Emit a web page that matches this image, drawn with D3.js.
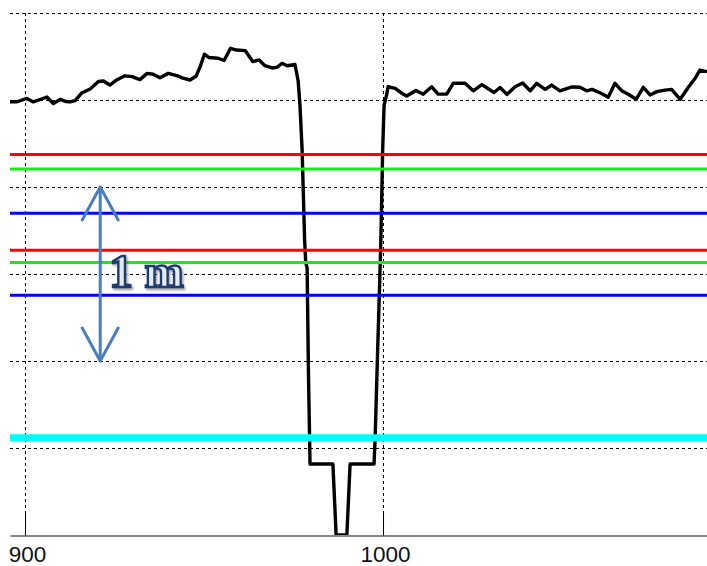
<!DOCTYPE html>
<html>
<head>
<meta charset="utf-8">
<script src="https://cdn.jsdelivr.net/npm/d3@7/dist/d3.min.js"></script>
<style>
  html, body { margin: 0; padding: 0; background: #fff; }
  svg { display: block; }
</style>
</head>
<body>
<svg id="chart" width="707" height="566"></svg>
<script>
// Ground profile along the section (distance in m, elevation in m above datum)
const distance = [
  895.8, 897.8, 900.5, 902.3, 904.2, 906.1, 907.9, 909.8, 911.5, 912.6,
  914.0, 915.8, 918.2, 920.5, 921.9, 923.7, 925.6, 927.9, 929.9, 932.1,
  934.1, 935.8, 937.7, 940.0, 942.4, 944.1, 946.1, 947.8, 948.9, 950.1,
  951.4, 953.9, 955.6, 957.4, 959.1, 961.5, 963.6, 965.4, 967.0, 969.0,
  970.4, 971.8, 973.2, 975.4, 976.3, 976.8, 977.4, 978.1, 978.4, 978.8,
  979.2, 979.5, 979.6, 986.0, 986.9, 989.9, 990.8, 997.5, 997.8, 998.5,
  999.0, 999.4, 999.9, 1000.3, 1001.0, 1001.4, 1003.4, 1005.2, 1006.6, 1009.2,
  1011.2, 1013.6, 1015.4, 1017.8, 1019.6, 1022.9, 1025.2, 1027.6, 1031.0, 1032.7,
  1034.6, 1036.9, 1039.0, 1041.1, 1042.9, 1045.3, 1047.1, 1049.4, 1052.8, 1055.0,
  1056.9, 1058.4, 1060.9, 1062.9, 1064.8, 1066.7, 1068.5, 1070.7, 1072.7, 1074.6,
  1076.5, 1078.8, 1080.6, 1083.0, 1085.3, 1087.2, 1088.5, 1090.5
];
const elevation = [
  2.490, 2.490, 2.509, 2.489, 2.503, 2.517, 2.480, 2.503, 2.491, 2.489,
  2.496, 2.540, 2.563, 2.606, 2.609, 2.586, 2.615, 2.639, 2.634, 2.617,
  2.653, 2.648, 2.628, 2.653, 2.640, 2.626, 2.615, 2.638, 2.690, 2.763,
  2.744, 2.740, 2.727, 2.797, 2.787, 2.784, 2.721, 2.730, 2.697, 2.684,
  2.688, 2.711, 2.697, 2.704, 2.609, 2.471, 2.213, 1.695, 1.569, 1.534,
  0.891, 0.546, 0.408, 0.408, 0.000, 0.000, 0.408, 0.408, 0.557, 1.063,
  1.408, 1.695, 2.213, 2.471, 2.529, 2.576, 2.567, 2.539, 2.523, 2.555,
  2.533, 2.576, 2.534, 2.534, 2.596, 2.596, 2.553, 2.588, 2.543, 2.572,
  2.532, 2.576, 2.598, 2.553, 2.596, 2.561, 2.586, 2.553, 2.575, 2.573,
  2.553, 2.561, 2.539, 2.516, 2.596, 2.553, 2.533, 2.504, 2.573, 2.529,
  2.548, 2.557, 2.561, 2.504, 2.573, 2.625, 2.672, 2.663
];

// Reference water levels (m)
const redLevels   = [2.187, 1.636];
const greenLevels = [2.103, 1.566];
const blueLevels  = [1.849, 1.378];
const cyanLevels  = [0.559];

// Axis ticks and grid
const xTicks = [900, 1000];
const xTickLabels = ["900", "1000"];
const yGrid = [0.5, 1.0, 1.5, 2.0, 2.5, 3.0];

// Scale bar
const scaleBarFrom = 1.0;
const scaleBarTo = 2.0;
const scaleBarAt = 921;
const scaleBarLabel = "1 m";

// ---- drawing ----
const svg = d3.select("#chart");
const plot = { left: 10, right: 707, top: 13, bottom: 535 };

const x = d3.scaleLinear().domain([895.8, 1090.5]).range([plot.left, plot.right]);
const y = d3.scaleLinear().domain([0, 3]).range([plot.bottom, plot.top]);

svg.append("defs").append("clipPath").attr("id", "plotClip")
  .append("rect")
  .attr("x", plot.left).attr("y", plot.top - 6)
  .attr("width", plot.right - plot.left).attr("height", plot.bottom - plot.top + 6);

const shadow = svg.select("defs").append("filter").attr("id", "textShadow")
  .attr("x", "-20%").attr("y", "-20%").attr("width", "150%").attr("height", "150%");
shadow.append("feDropShadow")
  .attr("dx", 1.5).attr("dy", 2).attr("stdDeviation", 1.2)
  .attr("flood-color", "#555").attr("flood-opacity", 0.55);

// Horizontal dashed grid
svg.append("g")
  .selectAll("line").data(yGrid).join("line")
  .attr("x1", plot.left).attr("x2", plot.right)
  .attr("y1", d => Math.round(y(d)) + 0.5).attr("y2", d => Math.round(y(d)) + 0.5)
  .attr("stroke", "#000").attr("stroke-width", 1)
  .attr("stroke-dasharray", "3,3");

// Vertical dashed grid
svg.append("g")
  .selectAll("line").data(xTicks).join("line")
  .attr("x1", d => Math.round(x(d)) + 0.5).attr("x2", d => Math.round(x(d)) + 0.5)
  .attr("y1", plot.top).attr("y2", plot.bottom)
  .attr("stroke", "#000").attr("stroke-width", 1)
  .attr("stroke-dasharray", "3,3");

// Bottom axis with inward ticks
const xAxis = d3.axisBottom(x)
  .tickValues(xTicks)
  .tickFormat((d, i) => xTickLabels[i])
  .tickSizeInner(-24)
  .tickSizeOuter(0)
  .tickPadding(11);

const axisG = svg.append("g")
  .attr("transform", `translate(0,${plot.bottom + 0.5})`)
  .call(xAxis);
axisG.select(".domain").attr("stroke", "#111").attr("stroke-width", 1.2);
axisG.selectAll(".tick line").attr("stroke", "#000").attr("stroke-width", 1);
axisG.selectAll(".tick text")
  .attr("fill", "#111")
  .attr("dx", 2)
  .style("font-family", "'Liberation Sans', Arial, sans-serif")
  .style("font-size", "22.5px");

// Ground profile
const profile = distance.map((d, i) => [d, elevation[i]]);
svg.append("path")
  .datum(profile)
  .attr("clip-path", "url(#plotClip)")
  .attr("fill", "none")
  .attr("stroke", "#000")
  .attr("stroke-width", 3.4)
  .attr("stroke-linejoin", "round")
  .attr("d", d3.line().x(d => x(d[0])).y(d => y(d[1])));

// Water levels
const levelSets = [
  { values: redLevels,   color: "#ff0000", width: 3 },
  { values: greenLevels, color: "#14ee14", width: 3 },
  { values: blueLevels,  color: "#0000ff", width: 3 },
  { values: cyanLevels,  color: "#00ffff", width: 7 }
];
levelSets.forEach(set => {
  svg.append("g")
    .selectAll("line").data(set.values).join("line")
    .attr("x1", plot.left).attr("x2", plot.right)
    .attr("y1", d => y(d)).attr("y2", d => y(d))
    .attr("stroke", set.color)
    .attr("stroke-width", set.width);
});

// Scale bar: double-headed arrow spanning one metre
const barX = x(scaleBarAt);
const yTop = y(scaleBarTo), yBot = y(scaleBarFrom);
const headW = 18, headH = 33;
const arrow = svg.append("g")
  .attr("fill", "none")
  .attr("stroke", "#4a7ebb")
  .attr("stroke-width", 3)
  .attr("stroke-linecap", "round")
  .attr("stroke-linejoin", "round");
arrow.append("line")
  .attr("x1", barX).attr("x2", barX)
  .attr("y1", yTop).attr("y2", yBot);
arrow.append("path")
  .attr("d", `M${barX - headW},${yTop + headH} L${barX},${yTop} L${barX + headW},${yTop + headH}`);
arrow.append("path")
  .attr("d", `M${barX - headW},${yBot - headH} L${barX},${yBot} L${barX + headW},${yBot - headH}`);

svg.append("text")
  .attr("x", barX + 9)
  .attr("y", y((scaleBarFrom + scaleBarTo) / 2) + 13)
  .attr("filter", "url(#textShadow)")
  .attr("fill", "#e6eaea")
  .attr("stroke", "#1b3d73")
  .attr("stroke-width", 2.4)
  .style("font-family", "'Liberation Serif', 'DejaVu Serif', serif")
  .style("font-weight", "bold")
  .style("font-size", "47px")
  .text(scaleBarLabel);
</script>
</body>
</html>
